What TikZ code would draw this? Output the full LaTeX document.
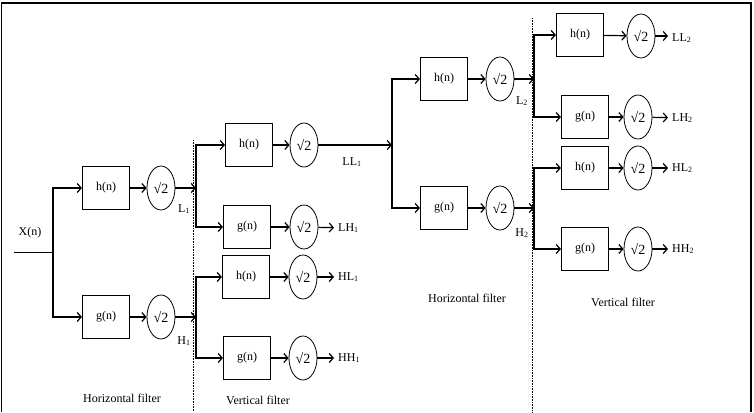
\documentclass[tikz,border=0pt]{standalone}
\usepackage{fontspec}
\setmainfont{Liberation Serif}
\usetikzlibrary{shapes.geometric,arrows.meta}
\tikzset{
  filt/.style={draw,line width=1.1pt,minimum width=47pt,minimum height=43pt,inner sep=0pt,font=\fontsize{12}{12}\selectfont},
  dsamp/.style={draw,ellipse,line width=0.8pt,minimum width=28pt,minimum height=44pt,inner sep=0pt,font=\fontsize{14}{14}\selectfont},
  lbl/.style={inner sep=1pt,font=\fontsize{12}{12}\selectfont},
  outlbl/.style={anchor=west,inner sep=4pt,font=\fontsize{12}{12}\selectfont},
  wire/.style={line width=1.2pt,-{Straight Barb[length=4pt,width=9pt]}},
  plain/.style={line width=1pt},
  sep/.style={densely dotted,line width=0.6pt}
}
\begin{document}
\begin{tikzpicture}[x=1pt,y=-1pt]
\useasboundingbox (0,0) rectangle (754,412);
% frame
\draw[line width=1.2pt] (1.5,412) -- (1.5,3) -- (751,3) -- (751,412);
% separators
\draw[sep] (193,140) -- (193,412);
\draw[sep] (532,18) -- (532,412);
% ---------- level 1 ----------
\coordinate (in) at (14,252);
\coordinate (j1) at (53,252);
\node[lbl] (xn) at (30,233) {X(n)};
\node[filt] (h1) at (106,188) {h(n)};
\node[dsamp] (ch1) at (161,188) {√2};
\node[filt] (g1) at (106,317) {g(n)};
\node[dsamp] (cg1) at (161,317) {√2};
\draw[plain] (in) -- (j1);
\draw[wire] (j1) |- (h1.west);
\draw[wire] (j1) |- (g1.west);
\draw[wire] (h1) -- (ch1);
\draw[wire] (g1) -- (cg1);
\coordinate (jL1) at (196,188);
\coordinate (jH1) at (196,317);
\draw[wire] (ch1) -- (jL1);
\draw[wire] (cg1) -- (jH1);
\node[lbl] (L1) at (184,209) {L\textsubscript{1}};
\node[lbl] (H1) at (184,341) {H\textsubscript{1}};
\node[lbl] (hf1) at (122,398) {Horizontal filter};
% ---------- level 2 ----------
\node[filt] (hLL) at (249,145) {h(n)};
\node[dsamp] (cLL) at (304,145) {√2};
\node[filt] (gLH) at (247,227) {g(n)};
\node[dsamp] (cLH) at (304,227) {√2};
\node[filt] (hHL) at (246,277) {h(n)};
\node[dsamp] (cHL) at (303,277) {√2};
\node[filt] (gHH) at (247,358) {g(n)};
\node[dsamp] (cHH) at (303,358) {√2};
\draw[wire] (jL1) |- (hLL.west);
\draw[wire] (jL1) |- (gLH.west);
\draw[wire] (jH1) |- (hHL.west);
\draw[wire] (jH1) |- (gHH.west);
\draw[wire] (hLL) -- (cLL);
\draw[wire] (gLH) -- (cLH);
\draw[wire] (hHL) -- (cHL);
\draw[wire] (gHH) -- (cHH);
\node[outlbl] (LH1) at (334,228) {LH\textsubscript{1}};
\node[outlbl] (HL1) at (334,277) {HL\textsubscript{1}};
\node[outlbl] (HH1) at (334,358) {HH\textsubscript{1}};
\draw[wire] (cLH) -- (LH1);
\draw[wire] (cHL) -- (HL1);
\draw[wire] (cHH) -- (HH1);
\coordinate (jLL1) at (392,145);
\draw[wire] (cLL) -- (jLL1);
\node[lbl] (LL1) at (352,162) {LL\textsubscript{1}};
\node[lbl] (vf1) at (258,400) {Vertical filter};
% ---------- level 3 ----------
\node[filt] (h2) at (444,79) {h(n)};
\node[dsamp] (ch2) at (500,79) {√2};
\node[filt] (g2) at (444,208) {g(n)};
\node[dsamp] (cg2) at (500,208) {√2};
\draw[wire] (jLL1) |- (h2.west);
\draw[wire] (jLL1) |- (g2.west);
\draw[wire] (h2) -- (ch2);
\draw[wire] (g2) -- (cg2);
\coordinate (jL2) at (534,79);
\coordinate (jH2) at (534,208);
\draw[wire] (ch2) -- (jL2);
\draw[wire] (cg2) -- (jH2);
\node[lbl] (L2) at (522,101) {L\textsubscript{2}};
\node[lbl] (H2) at (522,233) {H\textsubscript{2}};
\node[lbl] (hf2) at (467,298) {Horizontal filter};
% ---------- level 4 ----------
\node[filt] (hLL2) at (580,35) {h(n)};
\node[dsamp] (cLL2) at (641,36) {√2};
\node[filt] (gLH2) at (585,117) {g(n)};
\node[dsamp] (cLH2) at (638,117) {√2};
\node[filt] (hHL2) at (585,168) {h(n)};
\node[dsamp] (cHL2) at (638,168) {√2};
\node[filt] (gHH2) at (585,249) {g(n)};
\node[dsamp] (cHH2) at (638,249) {√2};
\draw[wire] (jL2) |- (hLL2.west);
\draw[wire] (jL2) |- (gLH2.west);
\draw[wire] (jH2) |- (hHL2.west);
\draw[wire] (jH2) |- (gHH2.west);
\draw[wire] (hLL2) -- (cLL2);
\draw[wire] (gLH2) -- (cLH2);
\draw[wire] (hHL2) -- (cHL2);
\draw[wire] (gHH2) -- (cHH2);
\node[outlbl] (LL2) at (668,38) {LL\textsubscript{2}};
\node[outlbl] (LH2) at (668,118) {LH\textsubscript{2}};
\node[outlbl] (HL2) at (668,168) {HL\textsubscript{2}};
\node[outlbl] (HH2) at (668,249) {HH\textsubscript{2}};
\draw[wire] (cLL2) -- (LL2.west |- cLL2);
\draw[wire] (cLH2) -- (LH2);
\draw[wire] (cHL2) -- (HL2);
\draw[wire] (cHH2) -- (HH2);
\node[lbl] (vf2) at (623,302) {Vertical filter};
\end{tikzpicture}
\end{document}
